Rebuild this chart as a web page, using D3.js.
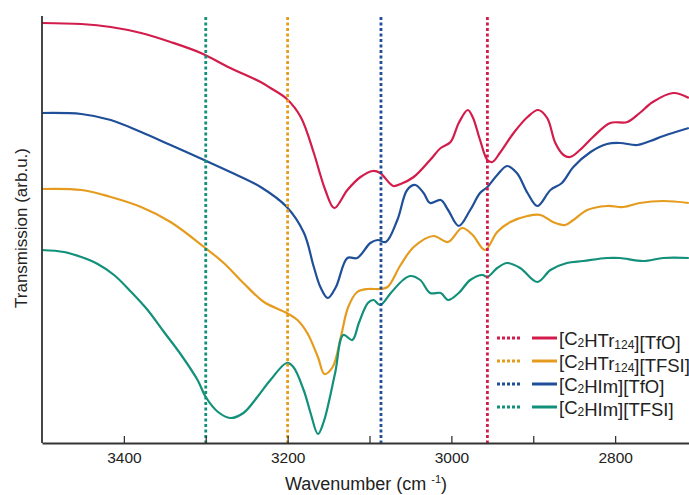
<!DOCTYPE html>
<html>
<head>
<meta charset="utf-8">
<script src="https://cdn.jsdelivr.net/npm/d3@7"></script>
<style>
  body { margin: 0; background: #fff; }
  text { font-family: "Liberation Sans", Arial, sans-serif; fill: #222; }
</style>
</head>
<body>
<svg id="chart" width="689" height="495"></svg>
<script>
"use strict";

// [wavenumber, transmission (arb.u., curves stacked)]
const tr124TfO = [
  [3500,420],[3452,419],[3416,416],[3379,410],[3343,401],[3306,390],[3270,375],
  [3233,361],[3221,355],[3201,344],[3184,326],[3168,290],[3160,268],[3154,253],
  [3143,235],[3127,253],[3111,266],[3096,272],[3087,270],[3071,257],[3062,259],
  [3046,266],[3026,283],[3013,295],[3001,301],[2991,320],[2980,333],[2974,326],
  [2965,303],[2956,283],[2950,281],[2940,291],[2924,310],[2907,326],[2894,333],
  [2883,325],[2873,300],[2863,288],[2855,286],[2843,293],[2827,306],[2806,320],
  [2785,321],[2770,330],[2754,341],[2729,350],[2710,345]
];
const tr124TFSI = [
  [3500,254],[3452,253],[3416,246],[3379,236],[3343,221],[3302,196],[3278,180],
  [3254,160],[3229,141],[3201,130],[3188,123],[3176,110],[3163,86],[3155,69],
  [3145,76],[3135,106],[3126,136],[3115,151],[3102,154],[3087,154],[3078,156],
  [3062,178],[3046,196],[3022,207],[3004,201],[2987,215],[2974,208],[2959,193],
  [2944,211],[2928,221],[2907,227],[2891,228],[2876,221],[2861,218],[2851,223],
  [2834,233],[2810,237],[2790,236],[2770,240],[2741,242],[2710,240]
];
const imTfO = [
  [3500,330],[3452,329],[3416,323],[3379,311],[3343,298],[3302,283],[3270,271],
  [3233,256],[3201,236],[3180,210],[3168,176],[3160,156],[3151,145],[3141,156],
  [3127,185],[3115,185],[3099,200],[3090,203],[3080,201],[3066,223],[3054,253],
  [3044,258],[3034,250],[3026,240],[3013,243],[3004,233],[2991,217],[2977,233],
  [2965,250],[2956,256],[2944,268],[2932,277],[2920,270],[2907,250],[2895,237],
  [2879,253],[2865,260],[2851,276],[2830,291],[2810,299],[2794,300],[2773,298],
  [2757,302],[2741,307],[2710,315]
];
const imTFSI = [
  [3500,193],[3473,191],[3452,186],[3432,179],[3412,168],[3391,151],[3371,133],
  [3351,111],[3330,88],[3310,63],[3300,46],[3285,31],[3270,25],[3254,30],
  [3237,46],[3221,63],[3201,80],[3193,76],[3180,52],[3172,30],[3163,9],
  [3156,21],[3142,70],[3132,108],[3121,103],[3113,120],[3102,140],[3095,143],
  [3087,138],[3074,150],[3059,163],[3050,167],[3038,163],[3026,150],[3013,150],
  [3004,143],[2991,150],[2977,163],[2962,168],[2956,166],[2944,175],[2932,180],
  [2916,175],[2895,161],[2879,173],[2859,180],[2839,182],[2810,185],[2794,185],
  [2766,182],[2741,185],[2710,185]
];

const seriesNames = ["[C2HTr124][TfO]", "[C2HTr124][TFSI]", "[C2HIm][TfO]", "[C2HIm][TFSI]"];
const seriesColors = ["#d21c4b", "#e59b1e", "#1f4f98", "#13907a"];
const seriesData = [tr124TfO, tr124TFSI, imTfO, imTFSI];
// dotted marker lines, one per series
const markerWn = [2956, 3200, 3086, 3300];

const majorTicks = [3400, 3200, 3000, 2800];
const allTicks = [3400, 3300, 3200, 3100, 3000, 2900, 2800];

const svg = d3.select("#chart");
const m = {l: 42, r: -8, t: 16, b: 443};

let x = d3.scaleLinear().domain([3500, 2700]).range([m.l, 689 - m.r]);
let y = d3.scaleLinear().domain([0, 427]).range([m.b, m.t]);

// curves
let line = d3.line().x(d => x(d[0])).y(d => y(d[1])).curve(d3.curveCatmullRom.alpha(0.5));
seriesData.forEach((s, i) => {
  svg.append("path")
    .attr("d", line(s))
    .attr("fill", "none")
    .attr("stroke", seriesColors[i])
    .attr("stroke-width", 2.2)
    .attr("stroke-linejoin", "round");
});

// vertical dotted markers
markerWn.forEach((w, i) => {
  svg.append("line")
    .attr("x1", x(w)).attr("x2", x(w))
    .attr("y1", m.t + 1).attr("y2", m.b)
    .attr("stroke", seriesColors[i])
    .attr("stroke-width", 2.8)
    .attr("stroke-dasharray", "3,2.5");
});

// x axis, ticks point inward
let xAxis = d3.axisBottom(x)
  .tickValues(allTicks)
  .tickSizeInner(-7).tickSizeOuter(0)
  .tickPadding(9)
  .tickFormat(d => majorTicks.includes(d) ? d : "");
let gx = svg.append("g").attr("transform", `translate(0,${m.b})`).call(xAxis);
gx.select(".domain").attr("stroke", "#333").attr("stroke-width", 1.8);
gx.selectAll(".tick line").attr("stroke", "#333").attr("stroke-width", 1.3);
gx.selectAll(".tick text").attr("font-size", 15.5).attr("fill", "#222")
  .style("font-family", "'Liberation Sans', Arial, sans-serif");

// y axis: just the spine
svg.append("line")
  .attr("x1", m.l).attr("x2", m.l).attr("y1", m.t).attr("y2", m.b)
  .attr("stroke", "#333").attr("stroke-width", 1.8);

// axis titles
let xt = svg.append("text").attr("x", 366).attr("y", 490)
  .attr("text-anchor", "middle").attr("font-size", 18);
xt.append("tspan").text("Wavenumber (cm ");
xt.append("tspan").attr("font-size", 11).attr("dy", -7).text("-1");
xt.append("tspan").attr("dy", 7).text(")");

svg.append("text")
  .attr("transform", "translate(27,228) rotate(-90)")
  .attr("text-anchor", "middle").attr("font-size", 17)
  .text("Transmission (arb.u.)");

// legend
const subs = /(\d+)/;
let lg = svg.append("g").attr("transform", "translate(497,338)");
seriesNames.forEach((name, i) => {
  let row = lg.append("g").attr("transform", `translate(0,${i * 23})`);
  row.append("line").attr("x1", 0).attr("x2", 25)
    .attr("stroke", seriesColors[i]).attr("stroke-width", 2.8)
    .attr("stroke-dasharray", "3,2");
  row.append("line").attr("x1", 35).attr("x2", 60)
    .attr("stroke", seriesColors[i]).attr("stroke-width", 3);
  let t = row.append("text").attr("x", 62).attr("y", 6.5).attr("font-size", 18.5);
  // digits become subscripts
  name.split(subs).filter(p => p.length).forEach(p => {
    if (/^\d+$/.test(p)) {
      t.append("tspan").attr("font-size", 12).attr("dy", 2).text(p);
      t.append("tspan").attr("dy", -2).text("");
    } else {
      t.append("tspan").text(p);
    }
  });
});
</script>
</body>
</html>
